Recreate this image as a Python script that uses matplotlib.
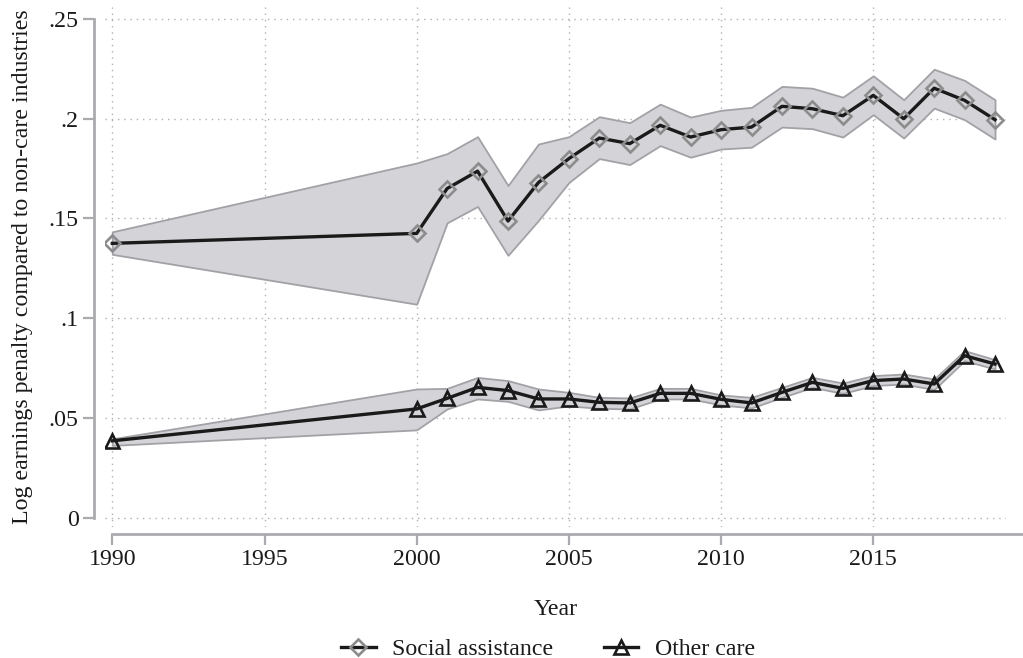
import matplotlib
matplotlib.use("Agg")
import matplotlib.pyplot as plt
from matplotlib.ticker import FixedLocator, FixedFormatter

# Survey years
years = [1990, 2000, 2001, 2002, 2003, 2004, 2005, 2006, 2007, 2008, 2009,
         2010, 2011, 2012, 2013, 2014, 2015, 2016, 2017, 2018, 2019]

# Social assistance: point estimate and 95% confidence band
social_est = [0.1375, 0.1425, 0.1650, 0.1737, 0.1487, 0.1680, 0.1800, 0.1903,
              0.1875, 0.1967, 0.1908, 0.1945, 0.1958, 0.2062, 0.2050, 0.2015,
              0.2117, 0.2000, 0.2153, 0.2092, 0.1995]
social_hi = [0.1433, 0.1778, 0.1825, 0.1910, 0.1665, 0.1873, 0.1910, 0.2010,
             0.1980, 0.2073, 0.2008, 0.2042, 0.2057, 0.2162, 0.2153, 0.2108,
             0.2215, 0.2095, 0.2248, 0.2192, 0.2095]
social_lo = [0.1320, 0.1070, 0.1478, 0.1560, 0.1315, 0.1490, 0.1680, 0.1800,
             0.1770, 0.1865, 0.1807, 0.1848, 0.1857, 0.1958, 0.1950, 0.1908,
             0.2020, 0.1903, 0.2053, 0.1995, 0.1898]

# Other care: point estimate and 95% confidence band
other_est = [0.0385, 0.0545, 0.0598, 0.0653, 0.0637, 0.0595, 0.0595, 0.0578,
             0.0575, 0.0623, 0.0623, 0.0593, 0.0575, 0.0628, 0.0678, 0.0648,
             0.0687, 0.0695, 0.0670, 0.0812, 0.0770]
other_hi = [0.0395, 0.0645, 0.0648, 0.0703, 0.0687, 0.0645, 0.0628, 0.0603,
            0.0600, 0.0648, 0.0648, 0.0615, 0.0603, 0.0653, 0.0703, 0.0675,
            0.0712, 0.0720, 0.0695, 0.0837, 0.0792]
other_lo = [0.0362, 0.0440, 0.0545, 0.0595, 0.0583, 0.0540, 0.0560, 0.0548,
            0.0545, 0.0595, 0.0595, 0.0565, 0.0550, 0.0603, 0.0653, 0.0623,
            0.0662, 0.0670, 0.0642, 0.0787, 0.0745]

x_ticks = [1990, 1995, 2000, 2005, 2010, 2015]
y_ticks = [0, 0.05, 0.1, 0.15, 0.2, 0.25]
y_tick_labels = ["0", ".05", ".1", ".15", ".2", ".25"]

series_names = ["Social assistance", "Other care"]
x_title = "Year"
y_title = "Log earnings penalty compared to non-care industries"

plt.rcParams["font.family"] = ["Liberation Serif", "DejaVu Serif"]

TEXT = "#1a1a1a"
AXIS_GREY = "#ababaf"
BAND_FILL = "#d4d4d8"
BAND_EDGE = "#a2a2a6"
LINE = "#1a1a1a"
FS = 17.2

fig = plt.figure(figsize=(10.23, 6.58), dpi=100)
ax = fig.add_axes([105 / 1023, 1 - 527 / 658, 901 / 1023, 520 / 658])

# Confidence bands
ax.fill_between(years, social_lo, social_hi, facecolor=BAND_FILL,
                edgecolor=BAND_EDGE, linewidth=1.3, zorder=2)
ax.fill_between(years, other_lo, other_hi, facecolor=BAND_FILL,
                edgecolor=BAND_EDGE, linewidth=1.3, zorder=2)

# Point estimates
ax.plot(years, social_est, color=LINE, linewidth=2.4, marker="D",
        markersize=8.5, markerfacecolor="none", markeredgecolor="#8c8c8c",
        markeredgewidth=1.9, label=series_names[0], zorder=4)
ax.plot(years, other_est, color=LINE, linewidth=2.4, marker="^",
        markersize=9.5, markerfacecolor="none", markeredgecolor=LINE,
        markeredgewidth=1.9, label=series_names[1], zorder=4)

ax.set_xlim(1989.76, 2019.36)
ax.set_ylim(-0.0047, 0.256)

ax.xaxis.set_major_locator(FixedLocator(x_ticks))
ax.yaxis.set_major_locator(FixedLocator(y_ticks))
ax.yaxis.set_major_formatter(FixedFormatter(y_tick_labels))

ax.grid(True, color="#b0b0b4", linestyle=(0, (1, 3.5)), linewidth=1.0, zorder=1)
ax.set_axisbelow(True)

for side in ("top", "right"):
    ax.spines[side].set_visible(False)
ax.spines["left"].set_position(("outward", 8))
ax.spines["bottom"].set_position(("outward", 5))
ax.spines["left"].set_bounds(0, 0.25)
ax.spines["bottom"].set_bounds(1990, 2020)
for side in ("left", "bottom"):
    ax.spines[side].set_color(AXIS_GREY)
    ax.spines[side].set_linewidth(2.0)

ax.tick_params(axis="both", direction="out", length=8, width=1.6,
               color=AXIS_GREY, labelsize=FS, labelcolor=TEXT)
ax.tick_params(axis="y", pad=3)
ax.tick_params(axis="x", pad=3)

ax.set_xlabel(x_title, fontsize=FS, color=TEXT, labelpad=21)
ax.set_ylabel(y_title, fontsize=FS, color=TEXT, labelpad=11)
ax.spines["bottom"].set_clip_on(False)

leg = fig.legend(loc="center", bbox_to_anchor=(548 / 1023, 1 - 649 / 658),
                 ncol=2, frameon=False, fontsize=FS, handlelength=1.45,
                 columnspacing=2.1, handletextpad=0.7)
for t in leg.get_texts():
    t.set_color(TEXT)

fig.savefig("out.png", dpi=100)
